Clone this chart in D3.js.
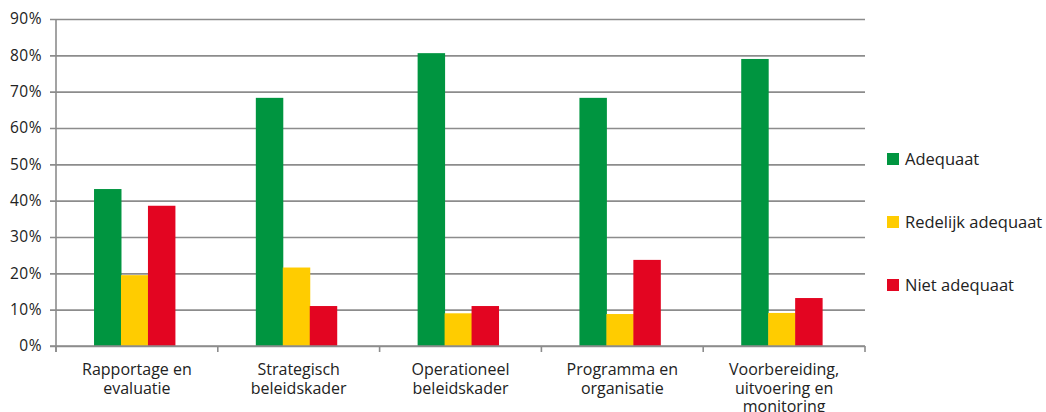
<!DOCTYPE html>
<html>
<head>
<meta charset="utf-8">
<script src="https://cdn.jsdelivr.net/npm/d3@7"></script>
<style>
  body { margin: 0; background: #fff; }
  svg text { font-family: "Open Sans", "Noto Sans", sans-serif; fill: #222; }
</style>
</head>
<body>
<svg id="chart" width="1046" height="412"></svg>
<script>
// categories and series
const categories = [
  ["Rapportage en", "evaluatie"],
  ["Strategisch", "beleidskader"],
  ["Operationeel", "beleidskader"],
  ["Programma en", "organisatie"],
  ["Voorbereiding,", "uitvoering en", "monitoring"]
];
const seriesNames = ["Adequaat", "Redelijk adequaat", "Niet adequaat"];
const seriesColors = ["#009540", "#ffcc00", "#e30521"];
const adequaat = [43.2, 68.3, 80.6, 68.3, 79.0];
const redelijk = [19.5, 21.6, 9.0, 8.8, 9.1];
const niet = [38.6, 11.0, 11.0, 23.7, 13.2];
const yTicks = [0, 10, 20, 30, 40, 50, 60, 70, 80, 90];

const series = [adequaat, redelijk, niet];

let margin = {top: 19, left: 56, right: 181, bottom: 66};
let svg = d3.select("#chart");
let width = 1046 - margin.left - margin.right,
    height = 412 - margin.top - margin.bottom;

let g = svg.append("g")
    .attr("transform", "translate(" + margin.left + "," + margin.top + ")");

let x = d3.scaleBand()
    .domain(d3.range(categories.length))
    .range([0, width]);

let xInner = d3.scaleBand()
    .domain(d3.range(series.length))
    .range([0, x.bandwidth() * 0.5]);

let y = d3.scaleLinear()
    .domain([0, 90])
    .range([height, 0]);

// gridlines
let yAxis = d3.axisLeft(y)
    .tickValues(yTicks)
    .tickSize(-width)
    .tickPadding(14)
    .tickFormat(d => d + "%");

let yg = g.append("g").call(yAxis);
yg.select(".domain").remove();
yg.selectAll(".tick line")
    .attr("x1", -6)
    .attr("stroke", "#8c8c8c")
    .attr("stroke-width", 1.6);
yg.selectAll(".tick text")
    .style("font-size", "15.5px")
    .style("letter-spacing", "0.5px")
    .attr("fill", "#222");

// bars
let groups = g.selectAll(".cat")
    .data(categories.map((c, i) => i))
    .enter().append("g")
    .attr("class", "cat")
    .attr("transform", i => "translate(" + (x(i) + x.bandwidth() * 0.235) + ",0)");

groups.selectAll("rect")
    .data(i => series.map((s, j) => ({j: j, v: s[i]})))
    .enter().append("rect")
    .attr("x", d => xInner(d.j))
    .attr("width", xInner.bandwidth() + 0.5)
    .attr("y", d => y(d.v))
    .attr("height", d => height - y(d.v))
    .attr("fill", d => seriesColors[d.j]);

// left axis line
g.append("line")
    .attr("x1", 0).attr("x2", 0)
    .attr("y1", 0).attr("y2", height + 6)
    .attr("stroke", "#8c8c8c")
    .attr("stroke-width", 1.6);

// x axis line and ticks
g.append("line")
    .attr("x1", -6).attr("x2", width)
    .attr("y1", height).attr("y2", height)
    .attr("stroke", "#8c8c8c")
    .attr("stroke-width", 1.6);

let bounds = d3.range(categories.length + 1).map(i => i * x.step());
g.selectAll(".xtick")
    .data(bounds)
    .enter().append("line")
    .attr("x1", d => d).attr("x2", d => d)
    .attr("y1", height).attr("y2", height + 6)
    .attr("stroke", "#8c8c8c")
    .attr("stroke-width", 1.6);

// category labels
let labels = g.selectAll(".xlabel")
    .data(categories)
    .enter().append("text")
    .attr("class", "xlabel")
    .attr("text-anchor", "middle")
    .attr("transform", (d, i) => "translate(" + (x(i) + x.bandwidth() / 2) + "," + (height + 29) + ")")
    .style("font-size", "16px");

labels.selectAll("tspan")
    .data(d => d)
    .enter().append("tspan")
    .attr("x", 0)
    .attr("dy", (d, i) => i === 0 ? 0 : 18.5)
    .text(d => d);

// legend
let legend = svg.append("g")
    .attr("transform", "translate(887,153)");

let items = legend.selectAll(".item")
    .data(seriesNames)
    .enter().append("g")
    .attr("transform", (d, i) => "translate(0," + i * 63 + ")");

items.append("rect")
    .attr("width", 12)
    .attr("height", 12)
    .attr("fill", (d, i) => seriesColors[i]);

items.append("text")
    .attr("x", 18)
    .attr("y", 12)
    .style("font-size", "16.5px")
    .text(d => d);
</script>
</body>
</html>
